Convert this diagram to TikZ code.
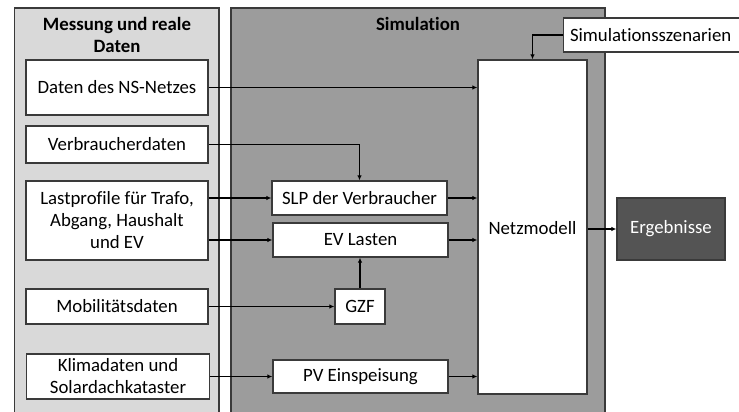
\documentclass[tikz,border=0pt]{standalone}
\usepackage{fontspec}
\setmainfont{Carlito}[Ligatures=NoCommon]
\usetikzlibrary{arrows.meta}
\definecolor{lpanel}{HTML}{D9D9D9}
\definecolor{spanel}{HTML}{9C9C9C}
\definecolor{edge}{HTML}{3A3A3A}
\definecolor{ergfill}{HTML}{545454}
\begin{document}
\begin{tikzpicture}[x=1pt,y=-1pt,
  box/.style={draw=edge,line width=1.3pt,fill=white,inner sep=0pt,align=center,font=\fontsize{18.8}{22}\selectfont},
  panel/.style={draw=edge,line width=1.3pt},
  conn/.style={draw=black,line width=1.4pt,-{Latex[length=5pt,width=4.5pt]}},
  ttl/.style={font=\fontsize{18.8}{22}\selectfont\bfseries,align=center,inner sep=0pt}]
\useasboundingbox (0,0) rectangle (739,412);
\begin{scope}
\clip (0,0) rectangle (739,412);
\fill[white] (0,0) rectangle (739,412);
\draw[panel,fill=lpanel] (14.5,8) rectangle (219,430);
\draw[panel,fill=spanel] (231,8) rectangle (605,430);
\node[ttl] (t1) at (117,35) {Messung und reale\\Daten};
\node[ttl] (t2) at (418,24) {Simulation};
\node[box,minimum width=182pt,minimum height=55pt] (ns) at (117,87.5) {Daten des NS-Netzes};
\node[box,minimum width=182pt,minimum height=37pt] (vd) at (117,144.5) {Verbraucherdaten};
\node[box,minimum width=182pt,minimum height=79pt] (lp) at (117,220.5) {Lastprofile für Trafo,\\Abgang, Haushalt\\und EV};
\node[box,minimum width=182pt,minimum height=35pt] (mob) at (117,306.5) {Mobilitätsdaten};
\node[box,minimum width=183pt,minimum height=45pt] (kli) at (118,376.5) {Klimadaten und\\Solardachkataster};
\node[box,minimum width=175pt,minimum height=34pt] (slp) at (359.5,198) {SLP der Verbraucher};
\node[box,minimum width=175pt,minimum height=34pt] (evl) at (360.5,240) {EV Lasten};
\node[box,minimum width=50pt,minimum height=35pt] (gzf) at (360,306.5) {GZF};
\node[box,minimum width=175pt,minimum height=33pt] (pv) at (360.5,376.5) {PV Einspeisung};
\node[box,minimum width=109pt,minimum height=334pt] (nm) at (532.5,227) {};
\node[font=\fontsize{18.8}{22}\selectfont,inner sep=0pt] (nmt) at (532.5,228) {Netzmodell};
\node[box,minimum width=178pt,minimum height=34pt,anchor=west] (sim) at (563,35) {\hspace*{-4pt}Simulationsszenarien};
\node[box,fill=ergfill,text=white,minimum width=108pt,minimum height=62pt] (erg) at (671,229) {Ergebnisse};
\end{scope}
\draw[conn] (ns.east) -- (ns.east -| nm.west);
\draw[conn] (vd.east) -| (slp.north);
\draw[conn] (lp.east |- slp.west) -- (slp.west);
\draw[conn] (lp.east |- evl.west) -- (evl.west);
\draw[conn] (mob.east) -- (gzf.west);
\draw[conn] (gzf.north) -- (gzf.north |- evl.south);
\draw[conn] (kli.east |- pv.west) -- (pv.west);
\draw[conn] (slp.east) -- (slp.east -| nm.west);
\draw[conn] (evl.east) -- (evl.east -| nm.west);
\draw[conn] (pv.east) -- (pv.east -| nm.west);
\draw[conn] (sim.west) -| (nm.north);
\draw[conn] (nm.east |- erg.west) -- (erg.west);
\end{tikzpicture}
\end{document}
